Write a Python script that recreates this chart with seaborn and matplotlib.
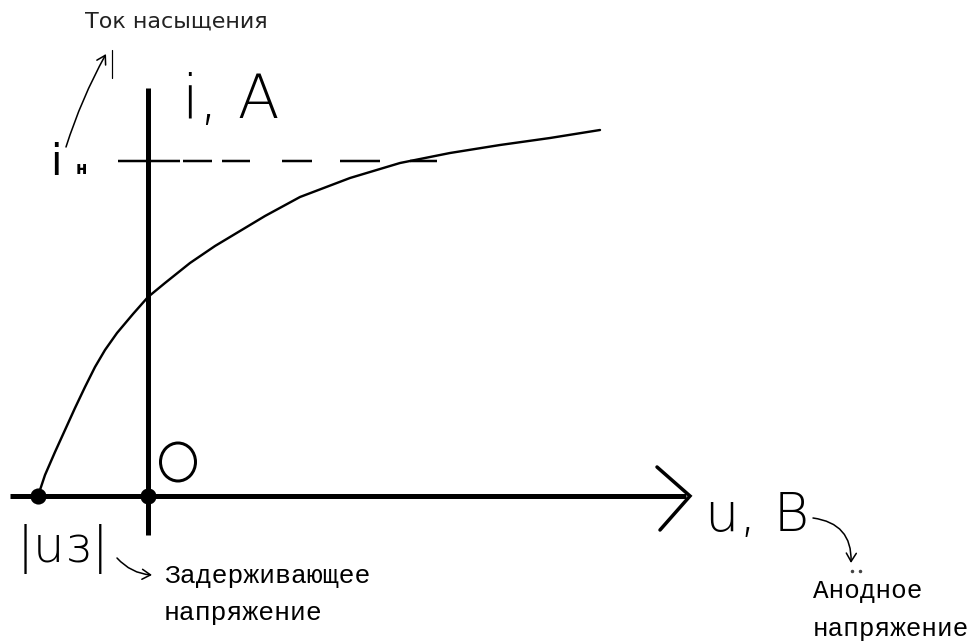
import numpy as np
import pandas as pd
import matplotlib
matplotlib.use("Agg")
import matplotlib.pyplot as plt
from matplotlib.patches import Ellipse
import seaborn as sns

# Sketch of the photocell current-voltage characteristic, in canvas units (x right, y down)
curve_u = [38, 45, 55, 65, 75, 85, 95, 105, 117, 133, 148, 165, 190, 215, 240,
           265, 300, 350, 400, 450, 500, 550, 600]
curve_i = [496, 475, 452, 430, 408, 387, 367, 350, 333, 314, 297, 283, 263, 246,
           231, 216, 197, 178, 163, 153, 145, 138, 130]

# Marked points on the voltage axis: |U_з| and the origin
point_u = [38, 148]
point_i = [496, 496]

# Saturation level i_н (dashed)
sat_level = 161
sat_dashes = [(118, 180), (183, 212), (222, 250), (282, 312), (340, 380), (410, 437)]

# Axes geometry
u_axis = (10, 690, 496)      # x from, x to, y
i_axis = (148, 88, 535)      # x, y top, y bottom

PX = 0.72  # points per pixel at dpi 100

sns.set_theme(style="white")
plt.rcParams["font.family"] = ["DejaVu Sans"]

fig = plt.figure(figsize=(9.74, 6.41), dpi=100)
ax = fig.add_axes([0, 0, 1, 1])
ax.set_xlim(0, 974)
ax.set_ylim(641, 0)
ax.axis("off")

# Coordinate axes
ax.plot([u_axis[0], u_axis[1] - 4], [u_axis[2], u_axis[2]], color="black",
        lw=5 * PX, solid_capstyle="butt")
ax.plot([i_axis[0], i_axis[0]], [i_axis[1], i_axis[2]], color="black",
        lw=5 * PX, solid_capstyle="butt")
# Arrow head on the voltage axis
ax.plot([657, 690, 660], [467, 496, 530], color="black", lw=3.5 * PX,
        solid_joinstyle="miter")

# Saturation dashes
for x0, x1 in sat_dashes:
    ax.plot([x0, x1], [sat_level, sat_level], color="black", lw=2.5 * PX,
            solid_capstyle="butt")

# Characteristic curve
df = pd.DataFrame({"u": curve_u, "i": curve_i})
sns.lineplot(data=df, x="u", y="i", sort=False, color="black",
             lw=2.4 * PX, ax=ax, estimator=None)
ax.lines[-1].set_solid_joinstyle("round")

# Points on the axis
sns.scatterplot(x=point_u, y=point_i, color="black", s=135, edgecolor="black",
                linewidth=0, ax=ax, zorder=5)

# Origin label drawn as a small circle
ax.add_patch(Ellipse((178, 462), 35, 38, fill=False, edgecolor="black",
                     lw=3 * PX))

# Hand-lettered axis labels
ax.text(182, 118, "i, A", fontsize=44, ha="left", va="baseline", color="black",
        fontweight="light")
ax.text(705, 531, "u, B", fontsize=39, ha="left", va="baseline", color="black",
        fontweight="light")
ax.text(17, 562, "|uз|", fontsize=36, ha="left", va="baseline", color="black",
        fontweight="light")
ax.text(50, 175, "i", fontsize=30, ha="left", va="baseline", color="black")
ax.text(76, 174, "н", fontsize=12, ha="left", va="baseline", color="black",
        fontweight="bold")

# Captions
ax.text(85, 28, "Ток насыщения", fontsize=16, ha="left", va="baseline",
        color="#222222")
mono = ["Liberation Mono", "DejaVu Sans Mono"]
ax.text(164, 583, "Задерживающее", fontsize=19, ha="left", va="baseline",
        family=mono, color="black")
ax.text(164, 620, "напряжение", fontsize=19, ha="left", va="baseline",
        family=mono, color="black")
ax.text(813, 598, "Анодное", fontsize=18.7, ha="left", va="baseline",
        family=mono, color="black")
ax.text(813, 636, "напряжение", fontsize=18.7, ha="left", va="baseline",
        family=mono, color="black")

# Pointer arrows from symbols to their captions
arrow_kw = dict(arrowstyle="->,head_length=0.5,head_width=0.3", color="black",
                lw=1.1 * PX * 1.4, shrinkA=0, shrinkB=0)
ax.annotate("", xy=(106, 54), xytext=(66, 147),
            arrowprops=dict(**arrow_kw, connectionstyle="arc3,rad=-0.05"))
ax.plot([112, 112], [50, 78], color="black", lw=1.2 * PX)
ax.annotate("", xy=(152, 575), xytext=(117, 558),
            arrowprops=dict(**arrow_kw, connectionstyle="arc3,rad=0.2"))
ax.annotate("", xy=(851, 563), xytext=(813, 518),
            arrowprops=dict(**arrow_kw, connectionstyle="arc3,rad=-0.45"))
ax.plot([852, 860], [571, 571], ls="none", marker="o", ms=1.5, color="#444444")

fig.savefig("out.png", dpi=100)
